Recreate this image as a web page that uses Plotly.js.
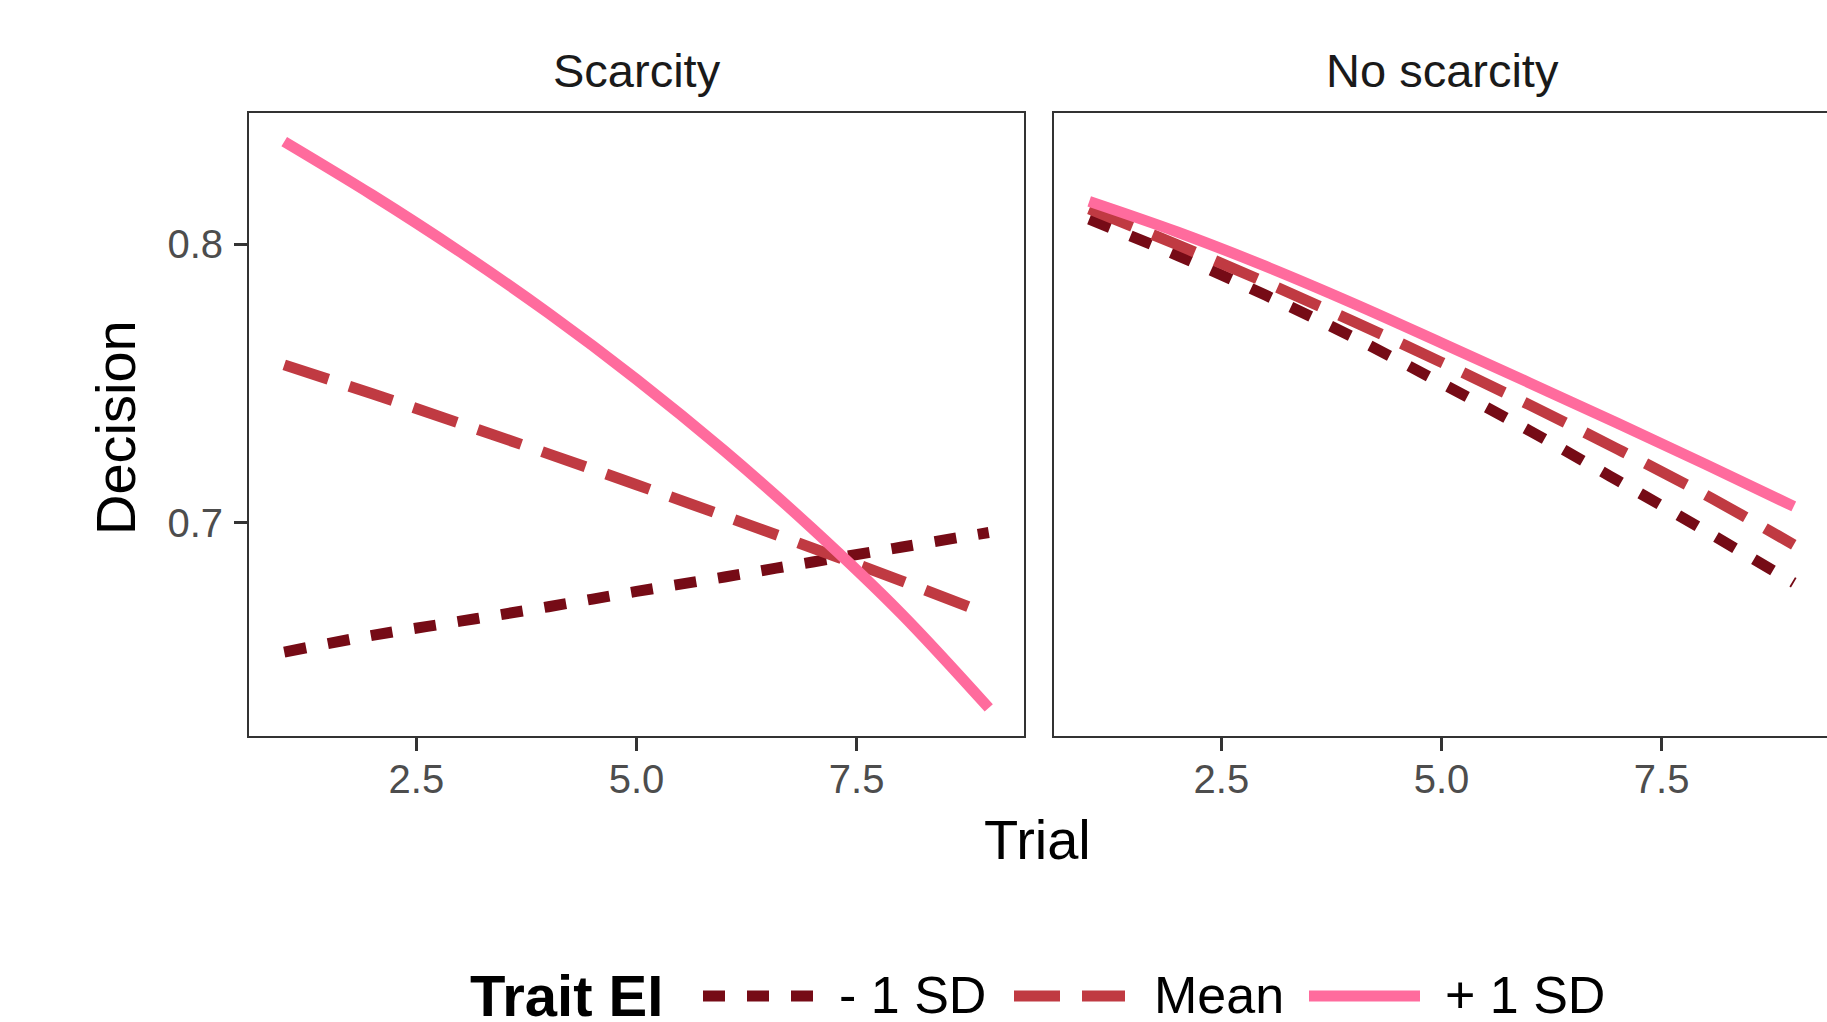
<!DOCTYPE html>
<html>
<head>
<meta charset="utf-8">
<script src="https://cdn.plot.ly/plotly-3.0.1.min.js"></script>
<style>html,body{margin:0;padding:0;background:#fff;} #chart{width:1827px;height:1022px;}</style>
</head>
<body>
<div id="chart"></div>
<script>
// ---- data ----
const trials = [1, 2, 3, 4, 5, 6, 7, 8, 9];
const panelNames = ["Scarcity", "No scarcity"];
const levelNames = ["- 1 SD", "Mean", "+ 1 SD"];
const legendTitle = "Trait EI";
const xTitle = "Trial";
const yTitle = "Decision";
const xTickVals = [2.5, 5.0, 7.5];
const yTickVals = [0.7, 0.8];

// Scarcity panel
const scarcityMinus1SD = [0.6534, 0.6594, 0.6645, 0.6697, 0.6752, 0.6804, 0.6858, 0.6911, 0.6964];
const scarcityMean     = [0.7567, 0.7463, 0.7356, 0.7247, 0.7136, 0.7023, 0.6908, 0.6791, 0.6668];
const scarcityPlus1SD  = [0.8370, 0.8178, 0.7973, 0.7753, 0.7515, 0.7257, 0.6977, 0.6674, 0.6333];
// No scarcity panel
const noScarcityMinus1SD = [0.8091, 0.7961, 0.7818, 0.7666, 0.7501, 0.7330, 0.7151, 0.6969, 0.6783];
const noScarcityMean     = [0.8128, 0.7999, 0.7864, 0.7723, 0.7576, 0.7423, 0.7264, 0.7099, 0.6920];
const noScarcityPlus1SD  = [0.8155, 0.8045, 0.7922, 0.7788, 0.7646, 0.7502, 0.7357, 0.7209, 0.7058];

// ---- styles ----
const colors = ["#760B16", "#C03A42", "#FF6B9D"];
const dashes = ["22px,22px", "46px,22px", "solid"];
const lineWidth = 11;
const FONT = "Liberation Sans, Arial, Helvetica, sans-serif";

const panels = [
  {series: [scarcityMinus1SD, scarcityMean, scarcityPlus1SD], xa: "x", ya: "y"},
  {series: [noScarcityMinus1SD, noScarcityMean, noScarcityPlus1SD], xa: "x2", ya: "y2"}
];

const traces = [];
panels.forEach((p, pi) => {
  p.series.forEach((vals, li) => {
    traces.push({
      type: "scatter", mode: "lines",
      x: trials, y: vals,
      xaxis: p.xa, yaxis: p.ya,
      name: levelNames[li],
      legendgroup: levelNames[li],
      showlegend: false,
      line: {color: colors[li], width: lineWidth, dash: dashes[li], shape: "spline", smoothing: 1},
      hoverinfo: "skip"
    });
  });
});

const W = 1827, H = 1022;
const yDom = [1 - 736 / H, 1 - 113 / H];
const pxPerUnit = 775 / 8.8;

const commonX = {
  showgrid: false, zeroline: false,
  showline: true, mirror: true, linecolor: "#333333", linewidth: 2,
  ticks: "outside", ticklen: 13, tickwidth: 3, tickcolor: "#333333",
  tickvals: xTickVals, tickformat: ".1f",
  tickfont: {family: FONT, size: 40, color: "#4D4D4D"},
  ticklabelstandoff: -6,
  fixedrange: true
};

// ---- legend (drawn as a key row under the panels) ----
const legendY = 1 - 995 / H;
const legendSampleX = [[703, 814], [1014, 1125], [1309, 1420]];
const legendTextX = [838, 1153, 1444];
const legendTitleX = 469;

const shapes = levelNames.map((nm, i) => ({
  type: "line", xref: "paper", yref: "paper",
  x0: legendSampleX[i][0] / W, x1: legendSampleX[i][1] / W, y0: 1 - 996 / H, y1: 1 - 996 / H,
  line: {color: colors[i], width: lineWidth, dash: dashes[i]}
}));

const annotations = [
  {text: panelNames[0], xref: "x domain", yref: "paper", x: 0.5, y: 1 - 70 / H, xanchor: "center", yanchor: "middle",
   showarrow: false, font: {family: FONT, size: 47, color: "#1A1A1A"}},
  {text: panelNames[1], xref: "paper", yref: "paper", x: (1054 + 1054 + 773 + 3) / 2 / W, y: 1 - 70 / H, xanchor: "center", yanchor: "middle",
   showarrow: false, font: {family: FONT, size: 47, color: "#1A1A1A"}},
  {text: xTitle, xref: "paper", yref: "paper", x: 1037 / W, y: 1 - 839 / H, xanchor: "center", yanchor: "middle",
   showarrow: false, font: {family: FONT, size: 56, color: "#000000"}},
  {text: yTitle, xref: "paper", yref: "paper", x: 115 / W, y: 1 - 428 / H, xanchor: "center", yanchor: "middle",
   textangle: -90, showarrow: false, font: {family: FONT, size: 56, color: "#000000"}},
  {text: "<b>" + legendTitle + "</b>", xref: "paper", yref: "paper", x: legendTitleX / W, y: legendY, xanchor: "left", yanchor: "middle",
   showarrow: false, borderpad: 0, font: {family: FONT, size: 58, color: "#000000"}}
];
levelNames.forEach((nm, i) => {
  annotations.push({text: nm, xref: "paper", yref: "paper", x: legendTextX[i] / W, y: legendY, xanchor: "left", yanchor: "middle",
    showarrow: false, borderpad: 0, font: {family: FONT, size: 52, color: "#000000"}});
});

const layout = {
  width: W, height: H,
  margin: {l: 0, r: 0, t: 0, b: 0},
  paper_bgcolor: "#ffffff", plot_bgcolor: "#ffffff",
  font: {family: FONT, color: "#000000"},
  showlegend: false,
  xaxis: Object.assign({}, commonX, {domain: [249 / W, 1024 / W], range: [0.6, 9.4], anchor: "y"}),
  xaxis2: Object.assign({}, commonX, {domain: [1054 / W, 1], range: [0.6, 0.6 + 773 / pxPerUnit], anchor: "y2"}),
  yaxis: {
    domain: yDom, range: [0.6232, 0.8473], anchor: "x",
    showgrid: false, zeroline: false,
    showline: true, mirror: true, linecolor: "#333333", linewidth: 2,
    ticks: "outside", ticklen: 13, tickwidth: 3, tickcolor: "#333333",
    tickvals: yTickVals, tickformat: ".1f",
    tickfont: {family: FONT, size: 40, color: "#4D4D4D"},
    ticklabelstandoff: 3,
    fixedrange: true
  },
  yaxis2: {
    domain: yDom, matches: "y", anchor: "x2",
    showgrid: false, zeroline: false,
    showline: true, mirror: false, linecolor: "#333333", linewidth: 2,
    ticks: "", showticklabels: false,
    fixedrange: true
  },
  shapes: shapes,
  annotations: annotations
};

Plotly.newPlot("chart", traces, layout, {displayModeBar: false, staticPlot: true});
</script>
</body>
</html>
